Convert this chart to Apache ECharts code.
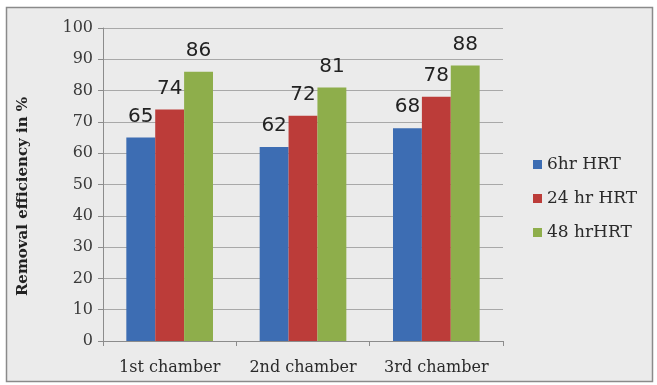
<!DOCTYPE html>
<html><head><meta charset="utf-8">
<script src="https://cdn.jsdelivr.net/npm/echarts@6/dist/echarts.min.js"></script>
<style>html,body{margin:0;padding:0;background:#fff}#c{width:657px;height:385px}</style>
</head><body><div id="c"></div>
<script>
const categories = ['1st chamber', '2nd chamber', '3rd chamber'];
const seriesNames = ['6hr HRT', '24 hr HRT', '48 hrHRT'];
const hr6 = [65, 62, 68];
const hr24 = [74, 72, 78];
const hr48 = [86, 81, 88];
const yTicks = [0, 10, 20, 30, 40, 50, 60, 70, 80, 90, 100];
const colors = ['#3d6db3', '#bc3c39', '#8eae4b'];
const values = [hr6, hr24, hr48];
const serif = 'DejaVu Serif, serif';

const chart = echarts.init(document.getElementById('c'));
chart.setOption({
  backgroundColor: '#ffffff',
  animation: false,
  graphic: [{
    type: 'rect', z: -10,
    shape: {x: 6.5, y: 7.5, width: 646, height: 374},
    style: {fill: '#ebebeb', stroke: '#8a8a8a', lineWidth: 1.5}
  }],
  grid: {left: 103, right: 154, top: 28, bottom: 44},
  legend: {
    orient: 'vertical', left: 528, top: 150,
    itemWidth: 9, itemHeight: 9, itemGap: 15,
    icon: 'rect',
    textStyle: {fontFamily: serif, fontSize: 17, lineHeight: 19, color: '#2a2a2a'},
    data: seriesNames
  },
  xAxis: {
    type: 'category', data: categories,
    axisLine: {lineStyle: {color: '#8c8c8c'}},
    axisTick: {show: true, length: 5, lineStyle: {color: '#8c8c8c'}},
    axisLabel: {interval: 0, fontFamily: serif, fontSize: 16, color: '#2a2a2a', margin: 19}
  },
  yAxis: {
    type: 'value', min: yTicks[0], max: yTicks[yTicks.length - 1], interval: 10,
    name: 'Removal efficiency in %', nameLocation: 'middle', nameGap: 72, nameRotate: 90,
    nameTextStyle: {fontFamily: serif, fontWeight: 'bold', fontSize: 15, color: '#222', padding: [0, 24, 0, 0]},
    axisLine: {show: true, lineStyle: {color: '#8c8c8c'}},
    axisTick: {show: true, length: 5, lineStyle: {color: '#8c8c8c'}},
    axisLabel: {fontFamily: serif, fontSize: 16, color: '#3a3a3a', margin: 10},
    splitLine: {lineStyle: {color: '#a8a8a8'}}
  },
  series: seriesNames.map((n, i) => ({
    name: n, type: 'bar', data: values[i],
    barGap: '0%', barCategoryGap: '35%',
    itemStyle: {color: colors[i]},
    label: {show: true, position: 'top', distance: 11,
      fontFamily: 'DejaVu Sans, sans-serif', fontSize: 20, color: '#222'}
  }))
});
</script></body></html>
